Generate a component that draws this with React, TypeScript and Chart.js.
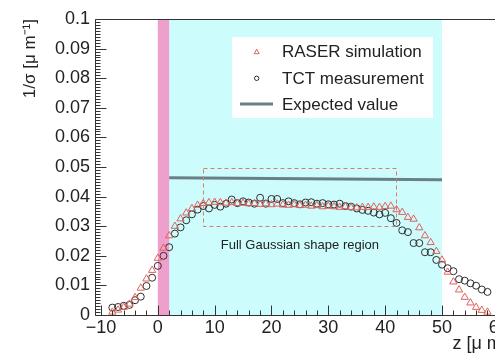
import React, { useEffect, useRef } from "react";
import { Chart, registerables } from "chart.js";

Chart.register(...registerables);

// ---- data ----
const Z_POS = [
  -8, -7, -6, -5, -4, -3, -2, -1, 0, 1, 2, 3, 4, 5, 6, 7, 8, 9, 10, 11, 12, 13, 14, 15, 16, 17, 18, 19, 20,
  21, 22, 23, 24, 25, 26, 27, 28, 29, 30, 31, 32, 33, 34, 35, 36, 37, 38, 39, 40, 41, 42, 43, 44, 45, 46,
  47, 48, 49, 50, 51, 52, 53, 54, 55, 56, 57, 58,
];
const RASER_SIM = [
  0.001, 0.0017, 0.0026, 0.0037, 0.0059, 0.0091, 0.0122, 0.0151, 0.0192, 0.0226, 0.0268, 0.03, 0.0325,
  0.0345, 0.036, 0.0371, 0.0377, 0.038, 0.0381, 0.038, 0.0378, 0.038, 0.0377, 0.0378, 0.0376, 0.0377,
  0.0374, 0.0376, 0.0373, 0.0375, 0.0372, 0.0371, 0.0373, 0.037, 0.0371, 0.0368, 0.037, 0.0366, 0.0368,
  0.0366, 0.0364, 0.0366, 0.0363, 0.0362, 0.0364, 0.0364, 0.0365, 0.0364, 0.0367, 0.0368, 0.0356, 0.0347,
  0.033, 0.0324, 0.0295, 0.0268, 0.0245, 0.0215, 0.0186, 0.0145, 0.0112, 0.0085, 0.006, 0.0041, 0.0026,
  0.0016, 0.001,
];
const TCT_MEAS = [
  0.0025, 0.0027, 0.0031, 0.0034, 0.005, 0.0062, 0.0098, 0.0126, 0.0166, 0.02, 0.0229, 0.0275, 0.0296,
  0.032, 0.034, 0.0356, 0.0368, 0.036, 0.0372, 0.0366, 0.0376, 0.039, 0.0378, 0.0384, 0.038, 0.0376,
  0.0396, 0.0376, 0.0392, 0.0392, 0.0378, 0.0384, 0.0378, 0.0374, 0.038, 0.0381, 0.0376, 0.0378, 0.0374,
  0.0373, 0.0376, 0.0368, 0.0366, 0.036, 0.0355, 0.0352, 0.0346, 0.034, 0.0345, 0.0327, 0.0311, 0.0286,
  0.028, 0.0243, 0.0243, 0.0212, 0.0212, 0.0186, 0.017, 0.0158, 0.0148, 0.0121, 0.0116, 0.0107, 0.0099,
  0.0086, 0.0078,
];
const EXPECTED_Z = [2, 50];
const EXPECTED_VAL = [0.0464, 0.0457];

const PINK_BAND = [0, 2];
const CYAN_BAND = [2, 50];
const REGION_Z = [8, 42];
const REGION_VAL = [0.0302, 0.0497];
const REGION_LABEL = "Full Gaussian shape region";
const REGION_LABEL_POS = [25, 0.0234];

const X_RANGE = [-11.05, 61.4];
const Y_RANGE = [0, 0.1];
const X_TICKS = [-10, 0, 10, 20, 30, 40, 50, 60];
const X_TICK_LABELS = ["\u221210", "0", "10", "20", "30", "40", "50", "60"];
const Y_TICKS = [0, 0.01, 0.02, 0.03, 0.04, 0.05, 0.06, 0.07, 0.08, 0.09, 0.1];
const Y_TICK_LABELS = ["0", "0.01", "0.02", "0.03", "0.04", "0.05", "0.06", "0.07", "0.08", "0.09", "0.1"];
const X_MINOR_STEP = 2;
const Y_MINOR_STEP = 0.001;

const SERIES_LABELS = ["RASER simulation", "TCT measurement", "Expected value"];
const X_TITLE = "z [\u03bc m]";
const Y_TITLE = "1/\u03c3 [\u03bc m\u207b\u00b9]";

const FONT = '"Liberation Sans", Arial, Helvetica, sans-serif';
const COL_SIM = "#e0625c";
const COL_TCT = "#2e2e2e";
const COL_EXP = "#6a8089";
const COL_CYAN = "#ccfcfc";
const COL_PINK = "#ef9fcb";
const COL_BOX = "#dc7c6c";
const COL_AXIS = "#333333";
const COL_TEXT = "#222222";

const decorPlugin = {
  id: "decor",
  beforeDatasetsDraw(chart: any) {
    const { ctx, chartArea: ca, scales } = chart;
    const x = scales.x;
    ctx.save();
    ctx.fillStyle = COL_CYAN;
    const c0 = x.getPixelForValue(CYAN_BAND[0]);
    const c1 = x.getPixelForValue(CYAN_BAND[1]);
    ctx.fillRect(c0, ca.top, c1 - c0, ca.bottom - ca.top);
    ctx.fillStyle = COL_PINK;
    const p0 = x.getPixelForValue(PINK_BAND[0]);
    const p1 = x.getPixelForValue(PINK_BAND[1]);
    ctx.fillRect(p0, ca.top, p1 - p0, ca.bottom - ca.top);
    ctx.restore();
  },
  afterDatasetsDraw(chart: any) {
    const { ctx, chartArea: ca, scales } = chart;
    const x = scales.x;
    const y = scales.y;
    ctx.save();
    // dashed region box
    const bx0 = x.getPixelForValue(REGION_Z[0]);
    const bx1 = x.getPixelForValue(REGION_Z[1]);
    const by0 = y.getPixelForValue(REGION_VAL[0]);
    const by1 = y.getPixelForValue(REGION_VAL[1]);
    ctx.strokeStyle = COL_BOX;
    ctx.lineWidth = 1;
    ctx.setLineDash([4, 3]);
    ctx.strokeRect(Math.round(bx0) + 0.5, Math.round(by1) + 0.5, Math.round(bx1 - bx0), Math.round(by0 - by1));
    ctx.setLineDash([]);

    // region label
    ctx.fillStyle = COL_TEXT;
    ctx.font = `13px ${FONT}`;
    ctx.textAlign = "center";
    ctx.textBaseline = "middle";
    ctx.fillText(REGION_LABEL, x.getPixelForValue(REGION_LABEL_POS[0]), y.getPixelForValue(REGION_LABEL_POS[1]));

    // legend
    const lx = ca.left + 137;
    const ly = ca.top + 18;
    ctx.fillStyle = "#ffffff";
    ctx.fillRect(lx, ly, 201, 81);
    const rows = [ca.top + 32.7, ca.top + 59.3, ca.top + 85];
    const mx = ca.left + 161.7;
    // triangle
    ctx.strokeStyle = COL_SIM;
    ctx.lineWidth = 1;
    ctx.beginPath();
    ctx.moveTo(mx, rows[0] - 2.5);
    ctx.lineTo(mx + 2.5, rows[0] + 2);
    ctx.lineTo(mx - 2.5, rows[0] + 2);
    ctx.closePath();
    ctx.stroke();
    // circle
    ctx.strokeStyle = COL_TCT;
    ctx.beginPath();
    ctx.arc(mx, rows[1], 2.2, 0, Math.PI * 2);
    ctx.stroke();
    // line
    ctx.strokeStyle = COL_EXP;
    ctx.lineWidth = 3;
    ctx.beginPath();
    ctx.moveTo(ca.left + 145, rows[2]);
    ctx.lineTo(ca.left + 178, rows[2]);
    ctx.stroke();
    ctx.fillStyle = COL_TEXT;
    ctx.font = `17px ${FONT}`;
    ctx.textAlign = "left";
    ctx.textBaseline = "middle";
    SERIES_LABELS.forEach((t, i) => ctx.fillText(t, ca.left + 187, rows[i] + 1));
    ctx.restore();
  },
  afterDraw(chart: any) {
    const { ctx, chartArea: ca, scales } = chart;
    const x = scales.x;
    const y = scales.y;
    ctx.save();
    ctx.strokeStyle = COL_AXIS;
    ctx.lineWidth = 1;
    ctx.beginPath();
    // frame: left, bottom, top
    const L = Math.round(ca.left) + 0.5;
    const B = Math.round(ca.bottom) + 0.5;
    const T = Math.round(ca.top) + 0.5;
    ctx.moveTo(L, T);
    ctx.lineTo(L, B);
    ctx.lineTo(ca.right, B);
    ctx.moveTo(L, T);
    ctx.lineTo(ca.right, T);
    // y ticks (inward)
    for (let k = 0; k < Y_TICKS.length; k++) {
      const py = Math.round(y.getPixelForValue(Y_TICKS[k])) + 0.5;
      ctx.moveTo(L, py);
      ctx.lineTo(L + 11, py);
      if (k < Y_TICKS.length - 1) {
        for (let m = 1; m < 10; m++) {
          const v = Y_TICKS[k] + m * Y_MINOR_STEP;
          const pm = Math.round(y.getPixelForValue(v)) + 0.5;
          ctx.moveTo(L, pm);
          ctx.lineTo(L + 5, pm);
        }
      }
    }
    // x ticks (inward)
    for (let k = 0; k < X_TICKS.length; k++) {
      const px = Math.round(x.getPixelForValue(X_TICKS[k])) + 0.5;
      ctx.moveTo(px, B);
      ctx.lineTo(px, B - 10);
      for (let m = 1; m < 5; m++) {
        const v = X_TICKS[k] + m * X_MINOR_STEP;
        if (v > X_RANGE[1]) break;
        const pm = Math.round(x.getPixelForValue(v)) + 0.5;
        ctx.moveTo(pm, B);
        ctx.lineTo(pm, B - 5);
      }
    }
    ctx.stroke();
    ctx.restore();
  },
};

export default function App() {
  const ref = useRef<HTMLCanvasElement | null>(null);

  useEffect(() => {
    document.documentElement.style.overflow = "hidden";
    document.body.style.overflow = "hidden";
    const canvas = ref.current;
    if (!canvas) return;
    const chart = new Chart(canvas, {
      type: "scatter",
      data: {
        datasets: [
          {
            type: "line",
            label: SERIES_LABELS[2],
            data: EXPECTED_Z.map((z, i) => ({ x: z, y: EXPECTED_VAL[i] })),
            borderColor: COL_EXP,
            borderWidth: 3,
            pointRadius: 0,
            fill: false,
          },
          {
            label: SERIES_LABELS[0],
            data: Z_POS.map((z, i) => ({ x: z, y: RASER_SIM[i] })),
            pointStyle: "triangle",
            pointRadius: 4.2,
            borderColor: COL_SIM,
            backgroundColor: "rgba(0,0,0,0)",
            borderWidth: 1,
            showLine: false,
          },
          {
            label: SERIES_LABELS[1],
            data: Z_POS.map((z, i) => ({ x: z, y: TCT_MEAS[i] })),
            pointStyle: "circle",
            pointRadius: 3.5,
            borderColor: COL_TCT,
            backgroundColor: "rgba(0,0,0,0)",
            borderWidth: 1,
            showLine: false,
          },
        ],
      },
      options: {
        animation: false,
        responsive: false,
        devicePixelRatio: 1,
        layout: { padding: { top: 11, right: 0, left: 0, bottom: 0 } },
        plugins: {
          legend: { display: false },
          tooltip: { enabled: false },
        },
        scales: {
          x: {
            type: "linear",
            min: X_RANGE[0],
            max: X_RANGE[1],
            grid: { display: false, drawTicks: false },
            border: { display: false },
            afterBuildTicks: (s: any) => {
              s.ticks = X_TICKS.map((v) => ({ value: v }));
            },
            afterFit: (s: any) => {
              s.height = 40;
              s.paddingLeft = 0;
              s.paddingRight = 0;
            },
            ticks: {
              autoSkip: false,
              maxRotation: 0,
              padding: 2,
              color: COL_TEXT,
              font: { family: FONT, size: 18 },
              callback: (v: any) => {
                const i = X_TICKS.indexOf(Number(v));
                return i >= 0 ? X_TICK_LABELS[i] : "";
              },
            },
            title: {
              display: true,
              text: X_TITLE,
              align: "end",
              color: COL_TEXT,
              font: { family: FONT, size: 18 },
              padding: { top: 0, bottom: 0 },
            },
          },
          y: {
            type: "linear",
            min: Y_RANGE[0],
            max: Y_RANGE[1],
            grid: { display: false, drawTicks: false },
            border: { display: false },
            afterBuildTicks: (s: any) => {
              s.ticks = Y_TICKS.map((v) => ({ value: v }));
            },
            afterFit: (s: any) => {
              s.width = 87;
              s.paddingTop = 0;
              s.paddingBottom = 0;
            },
            ticks: {
              autoSkip: false,
              padding: 5,
              color: COL_TEXT,
              font: { family: FONT, size: 18 },
              callback: (v: any) => {
                const i = Y_TICKS.findIndex((t) => Math.abs(t - Number(v)) < 1e-9);
                return i >= 0 ? Y_TICK_LABELS[i] : "";
              },
            },
            title: {
              display: true,
              text: Y_TITLE,
              align: "end",
              color: COL_TEXT,
              font: { family: FONT, size: 17 },
              padding: { top: 12, bottom: 0 },
            },
          },
        },
      },
      plugins: [decorPlugin],
    } as any);
    return () => chart.destroy();
  }, []);

  return (
    <div style={{ width: 495, height: 347, overflow: "hidden" }}>
      <canvas ref={ref} width={504} height={347} style={{ display: "block", width: 504, height: 347 }} />
    </div>
  );
}
